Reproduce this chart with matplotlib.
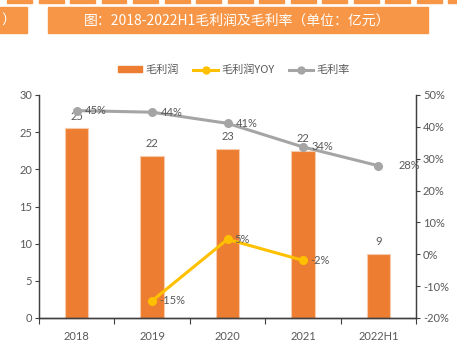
import matplotlib
matplotlib.use("Agg")
import matplotlib.pyplot as plt
from matplotlib.patches import Rectangle
from matplotlib.lines import Line2D
import numpy as np

plt.rcParams['font.family'] = ['Lato', 'Noto Sans CJK SC', 'DejaVu Sans']

categories = ['2018', '2019', '2020', '2021', '2022H1']
gross_profit = [25.5, 21.8, 22.8, 22.5, 8.6]
gross_profit_labels = ['25', '22', '23', '22', '9']
yoy = [None, -14.6, 4.7, -1.9, None]
yoy_labels = [None, '-15%', '5%', '-2%', None]
margin = [45.1, 44.6, 41.1, 33.7, 27.8]
margin_labels = ['45%', '44%', '41%', '34%', '28%']
left_ticks = [0, 5, 10, 15, 20, 25, 30]
right_ticks = [-20, -10, 0, 10, 20, 30, 40, 50]

W, H = 457, 344
fig = plt.figure(figsize=(W / 100, H / 100), dpi=100)
fig.patch.set_facecolor('white')

ORANGE_BANNER = '#F79646'
BAR = '#ED7D31'
YEL = '#FFC000'
GRAY = '#A5A5A5'
TXT = '#595959'

# decorative header
for k in range(15):
    x0 = 7 + 31.5 * k
    fig.patches.append(Rectangle((x0 / W, 1 - 2.5 / H), 25 / W, 2.5 / H,
                                 transform=fig.transFigure, color=ORANGE_BANNER, zorder=1))
fig.patches.append(Rectangle((0, 1 - 33.3 / H), 26.5 / W, 26 / H,
                             transform=fig.transFigure, color=ORANGE_BANNER, zorder=1))
fig.text(8 / W, 1 - 20.5 / H, '）', color='white', fontsize=10, va='center', ha='center',
         family=['Noto Sans CJK SC', 'DejaVu Sans'])
fig.patches.append(Rectangle((47.7 / W, 1 - 33.3 / H), 380.6 / W, 26 / H,
                             transform=fig.transFigure, color=ORANGE_BANNER, zorder=1))
fig.text(237 / W, 1 - 20.5 / H, '图：2018-2022H1毛利润及毛利率（单位：亿元）', color='white',
         fontsize=10, va='center', ha='center', family=['Noto Sans CJK SC', 'DejaVu Sans'])

ax = fig.add_axes([39 / W, 1 - 318 / H, (416 - 39) / W, (318 - 95) / H])
ax2 = ax.twinx()
x = np.arange(len(categories))

ax.bar(x, gross_profit, width=0.31, color=BAR, edgecolor='#F8CBAD', linewidth=0.8, zorder=2)
for xi, v, lab in zip(x, gross_profit, gross_profit_labels):
    ax.annotate(lab, (xi, v), xytext=(0, 5), textcoords='offset points', ha='center',
                va='bottom', fontsize=8, color=TXT)

ax.set_xlim(-0.5, len(categories) - 0.5)
ax.set_ylim(0, 30)
ax.set_yticks(left_ticks)
ax.set_xticks(x)
ax.set_xticklabels(categories)
ax.set_xticks(np.arange(-0.5, len(categories)), minor=True)
ax.tick_params(axis='x', which='major', length=0, pad=9, labelsize=8, labelcolor=TXT)
ax.tick_params(axis='x', which='minor', length=4, direction='out', color='#404040', width=0.8)
ax.tick_params(axis='y', length=3, direction='out', labelsize=8, labelcolor=TXT,
               color='#404040', width=0.8, pad=2)

ax2.set_ylim(-20, 50)
ax2.set_yticks(right_ticks)
ax2.set_yticklabels([f'{t}%' for t in right_ticks])
ax2.tick_params(axis='y', length=3, direction='out', labelsize=8, labelcolor=TXT,
                color='#404040', width=0.8, pad=2)

for a in (ax, ax2):
    a.spines['top'].set_visible(False)
    a.spines['left'].set_color('#404040')
    a.spines['right'].set_color('#404040')
    a.spines['bottom'].set_color('#404040')
    a.spines['left'].set_linewidth(0.9)
    a.spines['right'].set_linewidth(0.9)
    a.spines['bottom'].set_linewidth(1.0)

ax2.plot(x, margin, color=GRAY, lw=2.2, marker='o', ms=5.5, zorder=3)
for i, (xi, v, lab) in enumerate(zip(x, margin, margin_labels)):
    dx = 22 if i == len(x) - 1 else 14
    ax2.annotate(lab, (xi, v), xytext=(dx, 0), textcoords='offset points', ha='center',
                 va='center', fontsize=8, color=TXT)

yx = [xi for xi, v in zip(x, yoy) if v is not None]
yv = [v for v in yoy if v is not None]
ax2.plot(yx, yv, color=YEL, lw=2.2, marker='o', ms=5.5, zorder=3)
for xi, v, lab in zip(x, yoy, yoy_labels):
    if v is None:
        continue
    ax2.annotate(lab, (xi, v), xytext=(5, 0), textcoords='offset points', ha='left',
                 va='center', fontsize=8, color=TXT)

handles = [Rectangle((0, 0), 1, 1, color=BAR),
           Line2D([0], [0], color=YEL, lw=2.2, marker='o', ms=5),
           Line2D([0], [0], color=GRAY, lw=2.2, marker='o', ms=5)]
labels = ['毛利润', '毛利润YOY', '毛利率']
fig.legend(handles, labels, loc='center', bbox_to_anchor=(234 / W, 1 - 70 / H), ncol=3,
           frameon=False, labelcolor=TXT, handlelength=2.2, handleheight=0.5,
           columnspacing=1.3, handletextpad=0.3,
           prop={'family': ['Noto Sans CJK SC', 'DejaVu Sans'], 'size': 8})

fig.savefig('out.png', dpi=100)
